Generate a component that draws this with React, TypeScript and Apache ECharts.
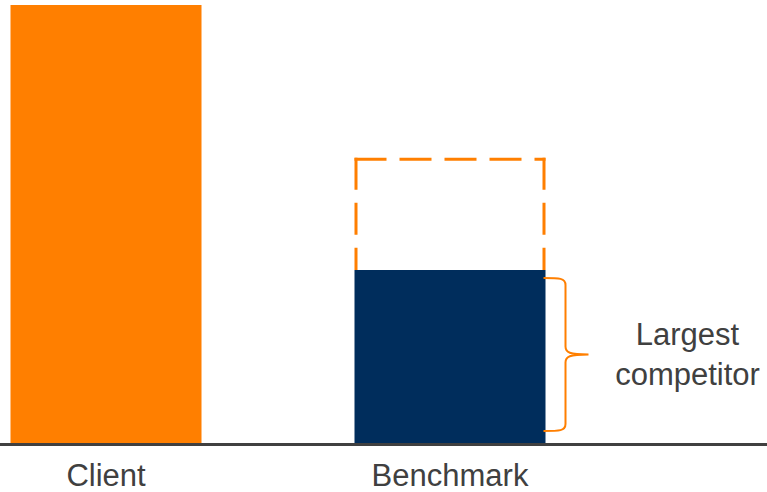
import React, { useEffect, useRef } from "react";
import * as echarts from "echarts";

const categories = ["Client", "", "Benchmark", ""];
const actualValues: (number | null)[] = [100, null, 39.5, null];
const targetValues: (number | null)[] = [null, null, 65, null];
const barColors = ["#FF7F00", "#FF7F00", "#002D5C", "#002D5C"];
const annotationText = "Largest\ncompetitor";

const ORANGE = "#FF7F00";
const TEXT = "#404040";
const BAR_W = 191;
const FONT = "Liberation Sans";

export default function App() {
  const ref = useRef<HTMLDivElement>(null);
  useEffect(() => {
    if (!ref.current) return;
    const chart = echarts.init(ref.current, null, { renderer: "svg" });
    const outlineData = targetValues
      .map((t, i) => (t == null ? null : [i, actualValues[i] as number, t]))
      .filter((d) => d != null);
    const braceData = actualValues
      .map((v, i) => (v != null && targetValues[i] != null ? [i, 0, v] : null))
      .filter((d) => d != null);

    chart.setOption({
      animation: false,
      grid: { left: 20, right: 59, top: 5, bottom: 49 },
      xAxis: {
        type: "category",
        data: categories,
        axisLine: { show: false },
        axisTick: { show: false },
        axisLabel: {
          interval: 0,
          margin: 19,
          fontSize: 31,
          lineHeight: 26,
          fontFamily: FONT,
          color: TEXT,
        },
      },
      yAxis: { type: "value", min: 0, max: 100, show: false, splitLine: { show: false } },
      graphic: [
        {
          type: "line",
          shape: { x1: 0, y1: 444.5, x2: 767, y2: 444.5 },
          style: { stroke: TEXT, lineWidth: 3 },
          z: 10,
        },
      ],
      series: [
        {
          type: "bar",
          barWidth: BAR_W,
          clip: false,
          data: actualValues.map((v, i) => ({
            value: v,
            itemStyle: { color: barColors[i] },
          })),
        },
        {
          type: "custom",
          clip: false,
          data: outlineData,
          renderItem: (params: any, api: any) => {
            const x = api.value(0);
            const pBot = api.coord([x, api.value(1)]);
            const pTop = api.coord([x, api.value(2)]);
            const xl = pTop[0] - BAR_W / 2 + 1.5;
            const xr = pTop[0] + BAR_W / 2 - 1.5;
            const yt = pTop[1] + 1;
            const yb = pBot[1];
            const style = {
              stroke: ORANGE,
              lineWidth: 3,
              lineDash: [32, 13],
              fill: null,
            };
            return {
              type: "group",
              children: [
                { type: "polyline", shape: { points: [[xl, yt - 1.5], [xl, yb]] }, style },
                { type: "polyline", shape: { points: [[xl - 1.5, yt], [xr + 1.5, yt]] }, style },
                { type: "polyline", shape: { points: [[xr, yt - 1.5], [xr, yb]] }, style },
              ],
            };
          },
          z: 1,
        },
        {
          type: "custom",
          clip: false,
          data: braceData,
          renderItem: (params: any, api: any) => {
            const x = api.value(0);
            const pBot = api.coord([x, api.value(1)]);
            const pTop = api.coord([x, api.value(2)]);
            const x0 = pTop[0] + BAR_W / 2 - 2;
            const xv = x0 + 22;
            const xtip = x0 + 45;
            const yTop = pTop[1] + 8;
            const yBot = pBot[1] - 12;
            const yMid = (yTop + yBot) / 2;
            const d =
              `M${x0} ${yTop} C${xv - 6} ${yTop} ${xv} ${yTop} ${xv} ${yTop + 7} ` +
              `L${xv} ${yMid - 8} C${xv} ${yMid - 2} ${xv + 4} ${yMid} ${xtip} ${yMid} ` +
              `M${xtip} ${yMid} C${xv + 4} ${yMid} ${xv} ${yMid + 2} ${xv} ${yMid + 8} ` +
              `L${xv} ${yBot - 7} C${xv} ${yBot} ${xv - 6} ${yBot} ${x0} ${yBot}`;
            return {
              type: "group",
              children: [
                {
                  type: "path",
                  shape: { pathData: d },
                  style: { stroke: ORANGE, lineWidth: 2, fill: null },
                },
                {
                  type: "text",
                  x: xtip + 99,
                  y: yMid,
                  style: {
                    text: annotationText,
                    fill: TEXT,
                    font: `31px "${FONT}"`,
                    align: "center",
                    verticalAlign: "middle",
                    lineHeight: 40,
                  },
                },
              ],
            };
          },
          z: 3,
        },
      ],
    });
    return () => chart.dispose();
  }, []);
  return <div ref={ref} style={{ width: 767, height: 492, position: "absolute", left: 0, top: 0 }} />;
}
